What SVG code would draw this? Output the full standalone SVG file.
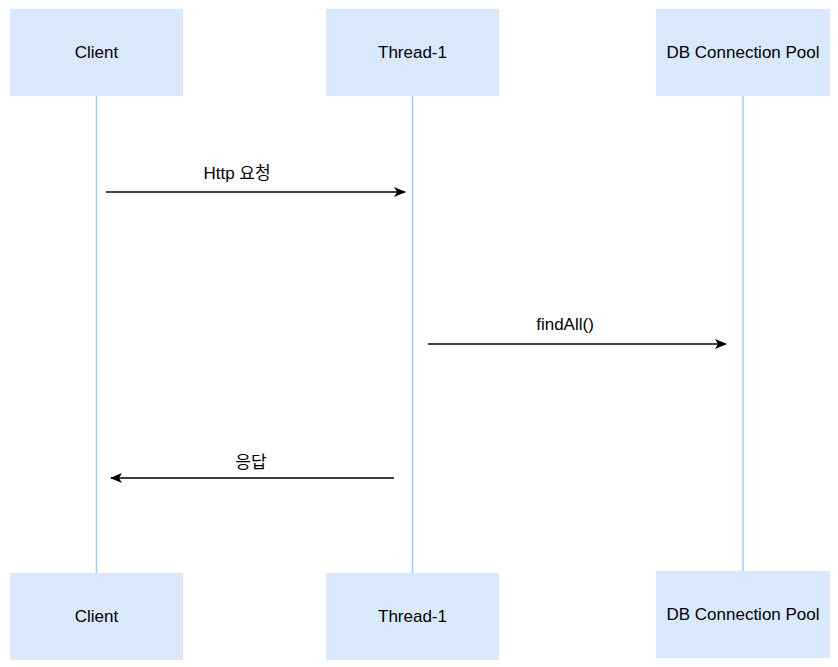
<svg xmlns="http://www.w3.org/2000/svg" width="838" height="667" viewBox="0 0 838 667">
<style>
.box{fill:#dae8fc;stroke:none}
.life{stroke:#99ccff;stroke-width:1.5;fill:none}
.t{font-family:"Liberation Sans",Arial,sans-serif;font-size:17px;fill:#000;text-anchor:middle}
.k{font-family:"Liberation Sans","Noto Sans CJK KR",sans-serif;font-size:17px;fill:#000;text-anchor:middle}
.msg{stroke:#000;stroke-width:1.5;fill:none}
</style>
<defs>
<marker id="ah" viewBox="0 0 12 10" refX="11" refY="5" markerWidth="12" markerHeight="10" markerUnits="userSpaceOnUse" orient="auto">
<path d="M0,0 L12,5 L0,10 L3,5 Z" fill="#000"/>
</marker>
</defs>
<rect width="838" height="667" fill="#fff"/>
<g id="lifelines">
<line class="life" x1="96.5" y1="96" x2="96.5" y2="573"/>
<line class="life" x1="412.5" y1="96" x2="412.5" y2="573"/>
<line class="life" x1="743" y1="96" x2="743" y2="571"/>
</g>
<g id="client-top"><rect class="box" x="10" y="9" width="173" height="87"/><text class="t" x="96.5" y="58">Client</text></g>
<g id="thread-top"><rect class="box" x="326" y="9" width="173" height="87"/><text class="t" x="412.5" y="58">Thread-1</text></g>
<g id="db-top"><rect class="box" x="656" y="9" width="174" height="87"/><text class="t" x="743" y="58">DB Connection Pool</text></g>
<g id="client-bottom"><rect class="box" x="10" y="573" width="173" height="87"/><text class="t" x="96.5" y="622">Client</text></g>
<g id="thread-bottom"><rect class="box" x="326" y="573" width="173" height="87"/><text class="t" x="412.5" y="622">Thread-1</text></g>
<g id="db-bottom"><rect class="box" x="656" y="571" width="174" height="87"/><text class="t" x="743" y="620">DB Connection Pool</text></g>
<g id="connectors">
<line class="msg" x1="106" y1="192" x2="405" y2="192" marker-end="url(#ah)"/>
<line class="msg" x1="428" y1="344" x2="726" y2="344" marker-end="url(#ah)"/>
<line class="msg" x1="394" y1="478" x2="111" y2="478" marker-end="url(#ah)"/>
<text class="k" x="237" y="179">Http 요청</text>
<text class="t" x="565" y="330">findAll()</text>
<text class="k" x="251" y="468">응답</text>
</g>
</svg>
